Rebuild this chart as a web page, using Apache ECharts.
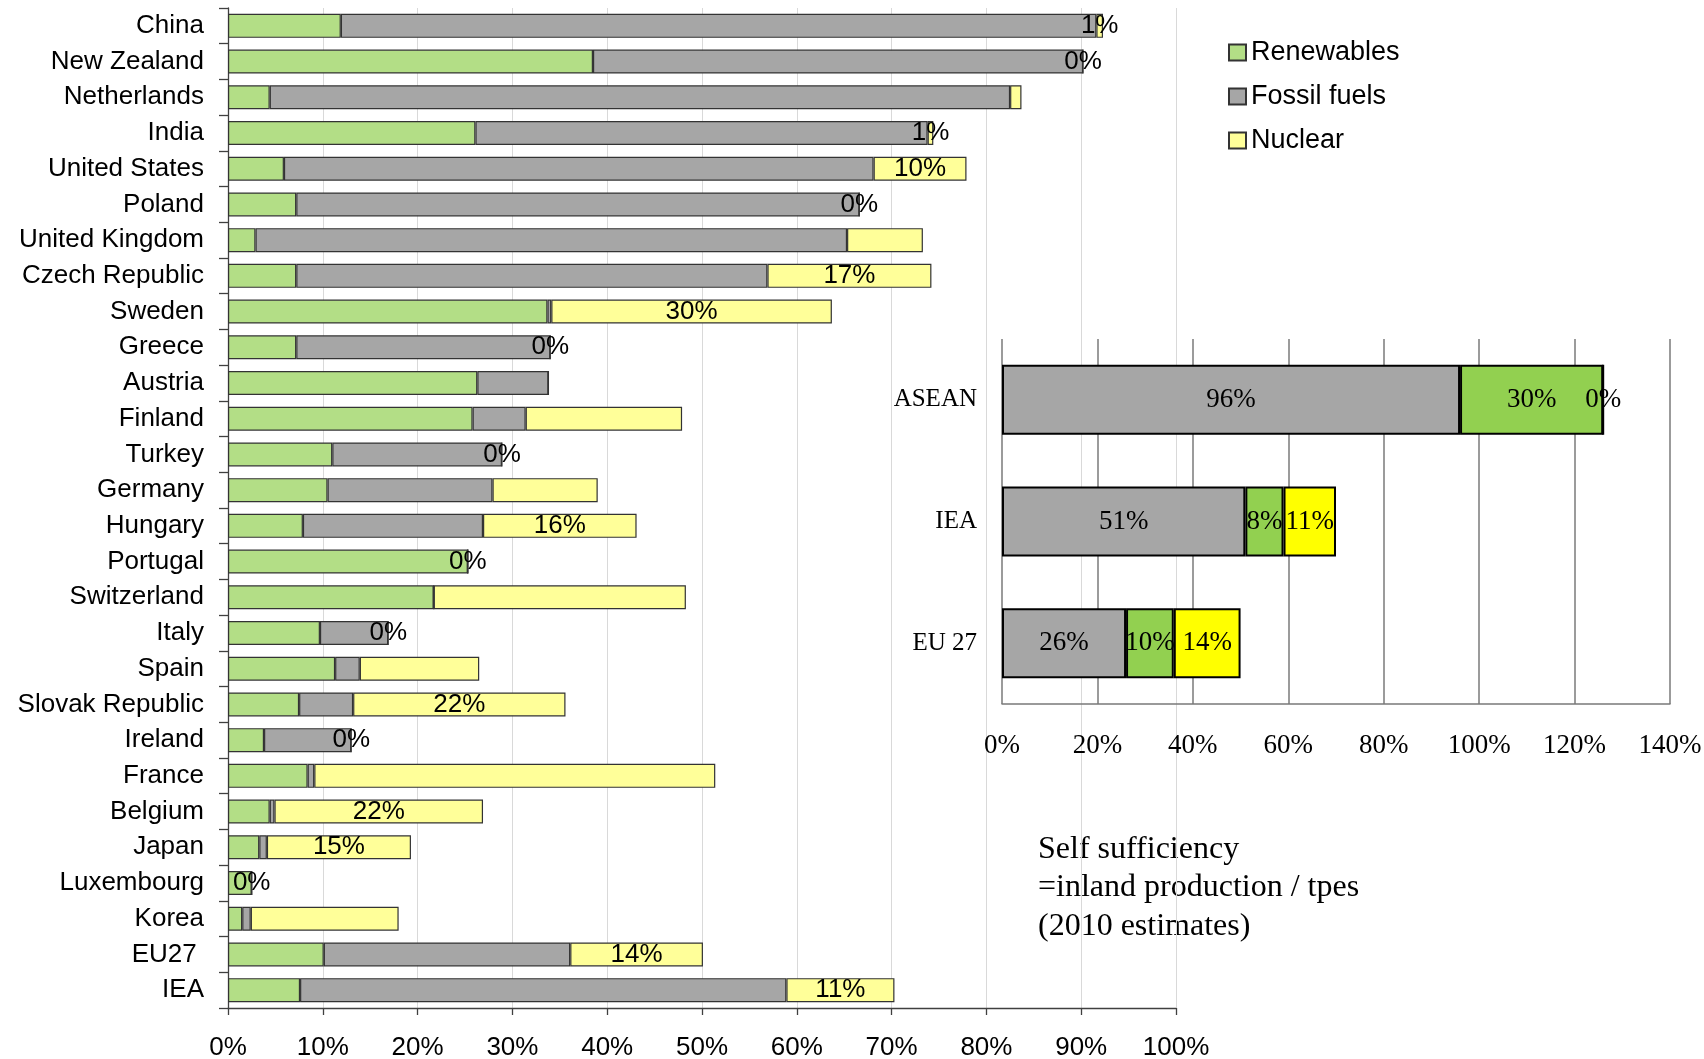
<!DOCTYPE html>
<html>
<head>
<meta charset="utf-8">
<title>Self sufficiency</title>
<script src="https://cdn.jsdelivr.net/npm/echarts@6/dist/echarts.min.js"></script>
<style>
  html, body { margin: 0; padding: 0; background: #fff; }
  #board { width: 1704px; height: 1059px; }
</style>
</head>
<body>
<div id="board"></div>
<script>
  // main chart, share of tpes covered by inland production (%)
  var countries = ['China', 'New Zealand', 'Netherlands', 'India', 'United States', 'Poland',
    'United Kingdom', 'Czech Republic', 'Sweden', 'Greece', 'Austria', 'Finland', 'Turkey',
    'Germany', 'Hungary', 'Portugal', 'Switzerland', 'Italy', 'Spain', 'Slovak Republic',
    'Ireland', 'France', 'Belgium', 'Japan', 'Luxembourg', 'Korea', 'EU27 ', 'IEA'];
  var renewables = [11.9, 38.5, 4.4, 26.1, 5.9, 7.2, 2.9, 7.2, 33.7, 7.2, 26.3, 25.8, 11.0,
    10.5, 7.9, 25.3, 21.7, 9.7, 11.3, 7.5, 3.8, 8.4, 4.4, 3.3, 2.5, 1.5, 10.1, 7.6];
  var fossilFuels = [79.7, 51.7, 78.1, 47.7, 62.2, 59.4, 62.4, 49.7, 0.4, 26.8, 7.5, 5.6, 17.9,
    17.4, 19.0, 0, 0, 7.2, 2.6, 5.7, 9.2, 0.7, 0.5, 0.8, 0, 0.9, 26.0, 51.3];
  var nuclear = [0.7, 0, 1.2, 0.6, 9.8, 0, 8.0, 17.3, 29.6, 0, 0, 16.5, 0,
    11.1, 16.2, 0, 26.6, 0, 12.6, 22.4, 0, 42.3, 22.0, 15.2, 0, 15.6, 14.0, 11.4];
  // bars whose nuclear share is written on the chart
  var labelled = ['China', 'New Zealand', 'India', 'United States', 'Poland', 'Czech Republic',
    'Sweden', 'Greece', 'Turkey', 'Hungary', 'Portugal', 'Italy', 'Slovak Republic', 'Ireland',
    'Belgium', 'Japan', 'Luxembourg', 'EU27 ', 'IEA'];

  // inset, regional self sufficiency (%)
  var regions = ['ASEAN', 'IEA', 'EU 27'];
  var regionFossil = [96, 51, 26];
  var regionRenewables = [30, 8, 10];
  var regionNuclear = [0, 11, 14];

  var sans = '"Liberation Sans", Arial, sans-serif';
  var serif = '"Liberation Serif", "Times New Roman", serif';

  var myChart = echarts.init(document.getElementById('board'));

  function mainBar(name, data, color) {
    return {
      name: name,
      type: 'bar',
      stack: 'main',
      barWidth: 24,
      xAxisIndex: 0,
      yAxisIndex: 0,
      itemStyle: { color: color, borderColor: '#333', borderWidth: 1.2 },
      label: { show: false },
      data: data
    };
  }

  function regionBar(name, data, color) {
    return {
      name: name,
      type: 'bar',
      stack: 'region',
      barWidth: 70,
      xAxisIndex: 1,
      yAxisIndex: 1,
      itemStyle: { color: color, borderColor: '#000', borderWidth: 2 },
      label: {
        show: true,
        position: 'inside',
        formatter: function (p) { return p.value + '%'; },
        color: '#000',
        fontSize: 27,
        fontFamily: serif
      },
      data: data
    };
  }

  var nuclearSeries = mainBar('Nuclear', nuclear.map(function (v, i) {
    return { value: v, label: { show: labelled.indexOf(countries[i]) >= 0 } };
  }), '#FFFF99');
  nuclearSeries.label = {
    position: 'inside',
    formatter: function (p) { return Math.round(p.value) + '%'; },
    color: '#000',
    fontSize: 26,
    fontFamily: sans
  };

  var option = {
    animation: false,
    backgroundColor: '#fff',
    legend: {
      data: ['Renewables', 'Fossil fuels', 'Nuclear'],
      orient: 'vertical',
      left: 1223,
      top: 34,
      itemWidth: 17,
      itemHeight: 16,
      itemGap: 17,
      icon: 'rect',
      selectedMode: false,
      textStyle: { fontSize: 27, lineHeight: 26, fontFamily: sans, color: '#000' }
    },
    grid: [
      { left: 228, right: 528, top: 8, bottom: 51, containLabel: false, outerBoundsMode: 'none' },
      { left: 1002, right: 34, top: 339, bottom: 355, containLabel: false, outerBoundsMode: 'none' }
    ],
    xAxis: [
      {
        gridIndex: 0,
        type: 'value',
        min: 0,
        max: 100,
        interval: 10,
        axisLine: { show: true, lineStyle: { color: '#404040', width: 1.3 } },
        axisTick: { show: true, length: 7, lineStyle: { color: '#404040', width: 1.3 } },
        splitLine: { show: true, lineStyle: { color: '#D9D9D9', width: 1 } },
        axisLabel: { formatter: '{value}%', fontSize: 26, fontFamily: sans, color: '#000', margin: 27 }
      },
      {
        gridIndex: 1,
        type: 'value',
        min: 0,
        max: 140,
        interval: 20,
        axisLine: { show: true, lineStyle: { color: '#7A7A7A', width: 1.5 } },
        axisTick: { show: false },
        splitLine: { show: true, lineStyle: { color: '#7A7A7A', width: 1.5 } },
        axisLabel: { formatter: '{value}%', fontSize: 27, fontFamily: serif, color: '#000', margin: 28 }
      }
    ],
    yAxis: [
      {
        gridIndex: 0,
        type: 'category',
        data: countries,
        inverse: true,
        axisLine: { show: true, lineStyle: { color: '#404040', width: 1.3 } },
        axisTick: { show: true, length: 9, lineStyle: { color: '#404040', width: 1.3 } },
        splitLine: { show: false },
        axisLabel: { fontSize: 26, fontFamily: sans, color: '#000', margin: 24, padding: [8, 0, 0, 0] }
      },
      {
        gridIndex: 1,
        type: 'category',
        data: regions,
        inverse: true,
        axisLine: { show: false },
        axisTick: { show: false },
        splitLine: { show: false },
        axisLabel: { fontSize: 25, fontFamily: serif, color: '#000', margin: 25 }
      }
    ],
    graphic: [
      {
        type: 'text',
        left: 1038,
        top: 830,
        style: {
          text: 'Self sufficiency\n=inland production / tpes\n(2010 estimates)',
          fontSize: 32,
          fontFamily: serif,
          lineHeight: 38.5,
          fill: '#000'
        }
      }
    ],
    series: [
      mainBar('Renewables', renewables, '#B3DE86'),
      mainBar('Fossil fuels', fossilFuels, '#A6A6A6'),
      nuclearSeries,
      regionBar('Fossil fuels (regions)', regionFossil, '#A6A6A6'),
      regionBar('Renewables (regions)', regionRenewables, '#92D050'),
      regionBar('Nuclear (regions)', regionNuclear, '#FFFF00')
    ]
  };

  myChart.setOption(option);
</script>
</body>
</html>
